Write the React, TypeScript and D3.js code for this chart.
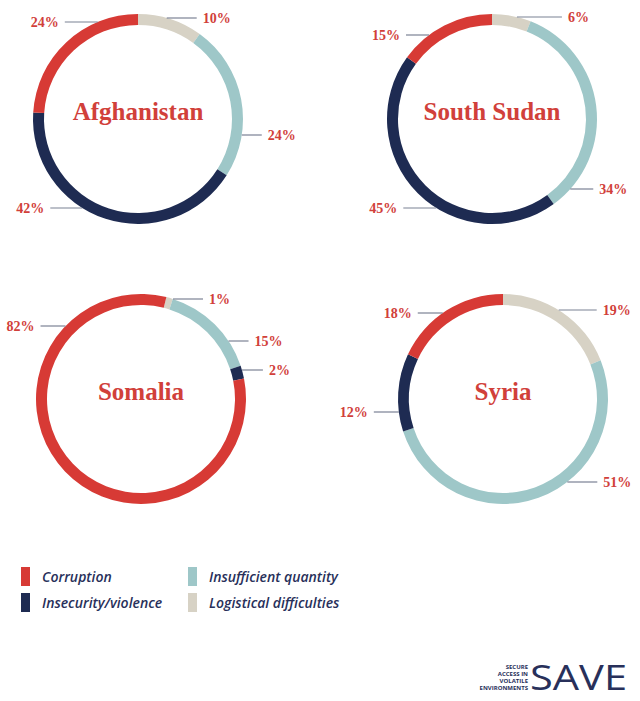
import * as d3 from 'd3';

const categories = [
  'Logistical difficulties',
  'Insufficient quantity',
  'Insecurity/violence',
  'Corruption',
];
const colors = ['#d7d2c5', '#9ec7c8', '#1e2b52', '#d73a35'];

const countries = ['Afghanistan', 'South Sudan', 'Somalia', 'Syria'];
// share per category, same order as `categories`
const afghanistan = [10, 24, 42, 24];
const southSudan = [6, 34, 45, 15];
const somalia = [1, 15, 2, 82];
const syria = [19, 51, 12, 18];
const values = [afghanistan, southSudan, somalia, syria];

// layout
const W = 640;
const H = 701;
const R = 105;
const THICK = 11;
const centers = [
  [138, 119],
  [492, 119],
  [141, 399],
  [503, 399],
];
const startDeg = [0, 0, 14, 0];
// label row offset from centre and leader line length, per slice
const labelDy = [
  [-101, 16, 89, -97],
  [-102, 70, 89, -84],
  [-100, -58, -29, -73],
  [-89, 83, 13, -86],
];
const lineLen = [
  [30, 20, 32, 33],
  [45, 23, 33, 23],
  [30, 20, 21, 25],
  [38, 30, 25, 25],
];

// column by column: Corruption, Insecurity | Insufficient, Logistical
const legendOrder = [3, 2, 1, 0];

const LABEL_RED = '#d1403a';
const LINE_GREY = '#7b8194';
const NAVY_TEXT = '#28305a';

const arc = d3
  .arc<d3.PieArcDatum<number>>()
  .innerRadius(R - THICK)
  .outerRadius(R);

const Donut = ({ idx }: { idx: number }) => {
  const [cx, cy] = centers[idx];
  const start = (startDeg[idx] * Math.PI) / 180;
  const pie = d3
    .pie<number>()
    .sort(null)
    .startAngle(start)
    .endAngle(start + 2 * Math.PI);
  const slices = pie(values[idx]);

  return (
    <g transform={`translate(${cx},${cy})`}>
      {slices.map((s, i) => (
        <path key={i} d={arc(s) ?? ''} fill={colors[i]} />
      ))}
      {slices.map((s, i) => {
        const mid = (s.startAngle + s.endAngle) / 2;
        const right = Math.sin(mid) >= 0;
        const dy = labelDy[idx][i];
        const dx = Math.sqrt(Math.max(R * R - dy * dy, 0));
        const x0 = right ? dx : -dx;
        const x1 = right ? x0 + lineLen[idx][i] : x0 - lineLen[idx][i];
        return (
          <g key={`l${i}`}>
            <line
              x1={x0}
              x2={x1}
              y1={dy}
              y2={dy}
              stroke={LINE_GREY}
              strokeWidth={1.2}
            />
            <text
              x={right ? x1 + 6 : x1 - 6}
              y={dy}
              dy="0.35em"
              textAnchor={right ? 'start' : 'end'}
              fill={LABEL_RED}
              fontFamily="'Liberation Serif', serif"
              fontWeight="bold"
              fontSize={14}
            >
              {`${values[idx][i]}%`}
            </text>
          </g>
        );
      })}
      <text
        x={0}
        y={1}
        textAnchor="middle"
        fill={LABEL_RED}
        fontFamily="'Liberation Serif', serif"
        fontWeight="bold"
        fontSize={25}
      >
        {countries[idx]}
      </text>
    </g>
  );
};

const App = () => {
  const legendX = d3.scaleOrdinal<number, number>().domain([0, 1]).range([21, 188]);
  const legendY = d3.scaleOrdinal<number, number>().domain([0, 1]).range([567, 593]);

  return (
    <div style={{ position: 'absolute', left: 0, top: 0 }}>
      <svg width={W} height={H} style={{ display: 'block', background: '#fff' }}>
        {countries.map((_, i) => (
          <Donut key={i} idx={i} />
        ))}

        {legendOrder.map((c, k) => {
          const col = Math.floor(k / 2);
          const row = k % 2;
          const x = legendX(col);
          const y = legendY(row);
          return (
            <g key={c}>
              <rect x={x} y={y} width={9} height={19} fill={colors[c]} />
              <text
                x={x + 21}
                y={y + 10}
                dy="0.35em"
                fill={NAVY_TEXT}
                fontFamily="'Open Sans', sans-serif"
                fontStyle="italic"
                fontWeight={600}
                fontSize={14}
              >
                {categories[c]}
              </text>
            </g>
          );
        })}

        <g fill={NAVY_TEXT} fontFamily="'Open Sans', sans-serif">
          {['SECURE', 'ACCESS IN', 'VOLATILE', 'ENVIRONMENTS'].map((t, i) => (
            <text
              key={t}
              x={528}
              y={669 + i * 7}
              textAnchor="end"
              fontSize={6}
              fontWeight={700}
            >
              {t}
            </text>
          ))}
          <text
            x={530}
            y={690}
            fontSize={35}
            fontWeight={400}
            textLength={97}
            lengthAdjust="spacingAndGlyphs"
          >
            SAVE
          </text>
        </g>
      </svg>
    </div>
  );
};

export default App;
